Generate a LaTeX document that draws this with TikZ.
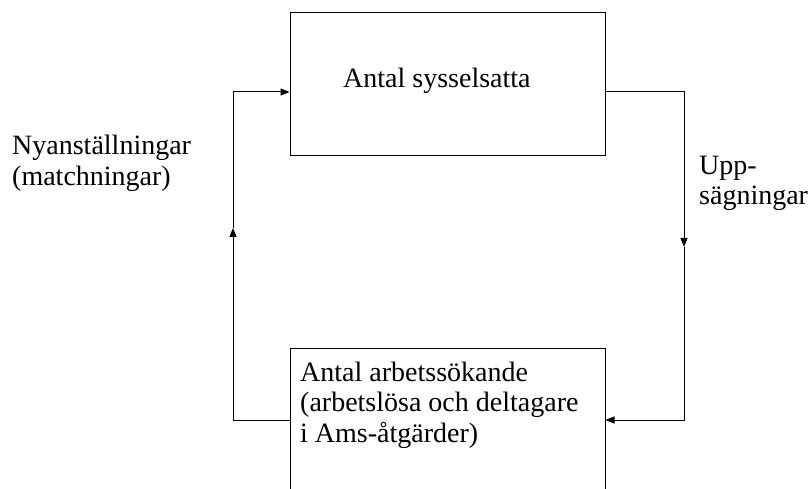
\documentclass[tikz,border=0pt]{standalone}
\usepackage{fontspec}
\setmainfont{Liberation Serif}
\usetikzlibrary{arrows.meta}
\begin{document}
\begin{tikzpicture}[x=1pt,y=1pt,
  box/.style={draw=black,line width=1pt,minimum width=315pt,minimum height=143pt,inner sep=0pt},
  txt/.style={font=\fontsize{28}{30.5}\selectfont,inner sep=0pt,align=left,anchor=base west},
  conn/.style={draw=black,line width=1pt},
  tip/.style={-{Triangle[length=9pt,width=7pt]}}]
\useasboundingbox (0,0) rectangle (812,488);
\clip (0,0) rectangle (812,488);
\node[box] (top) at (447.5,403.7) {};
\node[box] (bot) at (447.5,67.5) {};
\node[txt] (ttop) at (343,400) {Antal sysselsatta};
\node[txt] (tbot) at (300,46) {Antal arbetssökande\\(arbetslösa och deltagare\\i Ams-åtgärder)};
\node[txt] (tleft) at (12,302.5) {Nyanställningar\\(matchningar)};
\node[txt] (tright) at (699,283) {Upp-\\sägningar};
\coordinate (lt) at (233,396);
\coordinate (la) at (233,260);
\coordinate (lb) at (233,68);
\coordinate (rt) at (684,396);
\coordinate (ra) at (684,241);
\coordinate (rb) at (684,68);
\draw[conn,tip] (bot.west |- lb) -- (lb) -- (la);
\draw[conn,tip] (la) -- (lt) -- (top.west |- lt);
\draw[conn,tip] (top.east |- rt) -- (rt) -- (ra);
\draw[conn,tip] (ra) -- (rb) -- (bot.east |- rb);
\end{tikzpicture}
\end{document}
